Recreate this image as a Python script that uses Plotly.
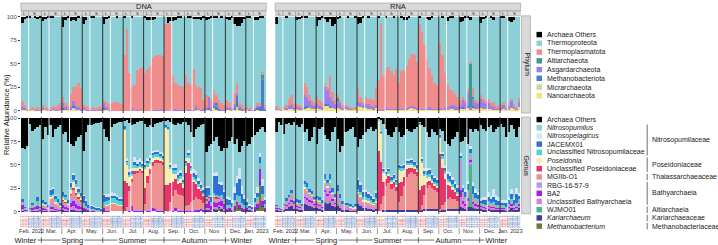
import plotly.graph_objects as go

W, H = 718, 245

# ---------------- categories ----------------
months = ["Feb. 2022", "Mar.", "Apr.", "May.", "Jun.", "Jul.", "Aug.", "Sep.", "Oct.", "Nov.", "Dec.", "Jan. 2023"]
month_codes = ["2202", "2203", "2204", "2205", "2206", "2207", "2208", "2209", "2210", "2211", "2212", "2301"]
size_fractions = ["L", "L", "L", "S", "S", "S", "S", "S"]
seasons = ["Winter", "Spring", "Summer", "Autumn", "Winter"]
season_month_counts = [1, 3, 3, 3, 2]

phylum_names = ["Archaea Others", "Thermoproteota", "Thermoplasmatota", "Altiarchaeota",
                "Asgardarchaeota", "Methanobacteriota", "Micrarchaeota", "Nanoarchaeota"]
phylum_colors = ["#000000", "#8CCFD6", "#F08C8C", "#3B9C8C", "#9A7EF0", "#4A7DC2", "#C4D9A0", "#F7E27A"]

genus_names = ["Archaea Others", "<i>Nitrosopumilus</i>", "<i>Nitrosopelagicus</i>", "JACEMX01",
               "Unclassified Nitrosopumilaceae", "<i>Poseidonia</i>", "Unclassified Poseidoniaceae",
               "MGIIb-O1", "RBG-16-57-9", "BA2", "Unclassified Bathyarchaeia", "WJMO01",
               "<i>Kariarchaeum</i>", "<i>Methanobacterium</i>"]
genus_colors = ["#000000", "#8CCFD6", "#D5E6F3", "#2E6FD8", "#4ED6D6", "#F8ECB0", "#E8336B",
                "#EE9191", "#B59BE3", "#A21EF0", "#DA80DA", "#4CB38A", "#3E3B9B", "#6B7B3A"]
family_labels = ["Nitrosopumilaceae", "Poseidoniaceae", "Thalassarchaeaceae", "Bathyarchaeia",
                 "Altiarchaeia", "Kariarchaeaceae", "Methanobacteriaceae"]
family_first_genus = [1, 5, 7, 8, 11, 12, 13]
family_last_genus = [4, 6, 7, 10, 11, 12, 13]

# ---------------- DNA, phylum ----------------
dna_phy_others = [
    6,2,1,1,0,1,2,1, 4,2,1,1,1,0,0,0,
    11,3,1,4,3,4,1,0, 7,3,0,1,1,0,0,0,
    7,2,1,0,0,1,0,0, 1,0,0,1,0,0,0,0,
    1,3,3,3,2,0,0,0, 0,6,4,4,3,1,1,0,
    0,1,1,2,2,2,3,1, 3,2,1,1,1,0,1,0,
    2,3,1,8,10,10,6,2, 1,1,0,3,3,1,1,0]
dna_phy_thermoplasmatota = [
    7,3,2,2,2,2,3,1, 3,2,2,2,2,3,5,6,
    7,4,2,14,14,21,26,22, 3,4,3,2,3,3,4,3,
    4,5,6,8,9,9,8,7, 60,87,40,23,28,43,46,47,
    40,45,48,56,57,58,59,57, 93,94,92,36,28,27,26,24,
    38,29,27,44,23,24,23,10, 13,2,10,12,9,9,7,5,
    8,5,3,12,12,4,4,3, 2,2,1,1,2,2,2,4]
dna_phy_altiarchaeota = [
    0,0,0,0,0,0,0,0, 0,0,0,0,0,0,0,0,
    0,0,0,0,0,0,0,0, 0,0,0,0,0,0,0,0,
    0,0,0,0,0,0,0,0, 0,0,0,0,0,0,0,0,
    0,0,0,0,0,0,0,0, 0,0,0,0,0,0,0,0,
    0,0,0,0,0,0,0,0, 0,1,0,0,1,0,0,0,
    0,0,0,0,0,0,0,0, 0,0,0,0,0,0,5,0]
dna_phy_asgardarchaeota = [
    3,1,0,0,1,0,1,0, 2,1,1,1,2,1,1,1,
    5,3,2,3,6,4,3,2, 2,1,1,1,1,0,1,1,
    5,3,1,0,0,0,0,0, 0,0,0,3,0,1,0,0,
    0,0,0,0,1,1,1,1, 0,0,0,1,2,1,1,1,
    0,1,1,1,3,1,1,2, 3,10,2,5,3,2,1,1,
    3,2,1,4,2,1,1,0, 1,1,0,1,2,1,1,1]
dna_phy_methanobacteriota = [
    0,1,0,0,0,0,0,0, 0,0,0,0,0,0,0,0,
    1,0,0,0,1,0,0,0, 0,0,0,0,0,0,0,0,
    1,0,0,0,0,0,0,0, 0,0,0,0,0,0,0,0,
    0,0,0,0,0,0,0,0, 0,0,0,0,0,0,0,0,
    0,0,0,0,1,0,0,0, 0,2,0,1,3,1,0,0,
    0,0,0,2,12,2,1,0, 0,0,0,2,3,5,33,1]
dna_phy_micrarchaeota = [
    0,0,0,0,0,0,0,0, 0,0,0,0,0,0,0,0,
    0,0,0,0,1,0,0,0, 0,0,0,0,0,0,0,0,
    0,0,0,0,0,0,0,0, 0,0,0,0,0,0,0,0,
    0,0,0,0,0,0,0,0, 0,0,0,0,0,0,0,0,
    0,0,0,0,0,0,0,0, 0,0,0,1,0,0,0,0,
    0,0,0,0,1,0,0,0, 0,0,0,0,0,0,0,0]
dna_phy_nanoarchaeota = [
    1,1,0,0,1,0,0,0, 1,1,0,0,1,0,0,1,
    2,1,1,1,3,1,1,0, 1,0,0,0,0,0,0,0,
    2,1,0,0,0,0,0,0, 0,0,0,0,0,0,0,0,
    0,0,0,0,0,0,0,0, 0,0,0,0,0,0,0,0,
    0,0,0,0,1,1,0,0, 1,1,0,3,1,0,0,0,
    1,1,0,1,3,1,0,0, 1,0,0,0,1,0,0,0]

# ---------------- RNA, phylum ----------------
rna_phy_others = [
    7,0,0,0,1,0,0,0, 3,2,1,1,1,0,0,0,
    10,3,1,2,5,2,10,7, 2,1,0,0,1,0,0,1,
    8,6,1,0,1,0,0,0, 1,0,0,1,0,0,1,0,
    0,1,3,3,1,0,0,0, 1,0,0,2,3,1,0,0,
    0,1,0,4,1,1,0,0, 5,4,1,1,3,0,0,0,
    6,2,1,0,1,3,0,0, 1,1,0,4,5,3,0,0]
rna_phy_thermoplasmatota = [
    2,1,1,2,3,8,11,4, 2,2,1,13,10,6,6,3,
    9,7,4,5,4,22,9,5, 3,4,2,1,1,1,1,2,
    14,7,4,8,6,9,8,19, 32,94,36,42,45,40,36,43,
    28,40,42,45,51,56,56,49, 92,82,68,52,42,36,28,26,
    69,58,37,24,18,15,13,11, 6,3,4,3,2,9,4,3,
    4,3,4,5,2,5,2,2, 2,2,1,3,2,2,1,4]
rna_phy_altiarchaeota = [
    0,0,0,0,0,0,0,0, 0,0,0,0,0,0,0,0,
    0,0,0,0,0,0,0,0, 3,0,0,0,0,0,0,0,
    0,0,0,0,0,0,0,0, 0,0,0,0,0,0,0,0,
    0,0,0,0,0,0,0,0, 0,0,0,0,0,0,0,0,
    0,0,0,0,0,0,0,0, 0,0,0,0,46,2,0,0,
    0,0,0,0,0,0,0,0, 0,0,0,0,0,0,0,0]
rna_phy_asgardarchaeota = [
    2,1,0,1,2,3,4,2, 3,2,2,13,10,8,4,3,
    4,3,2,18,15,10,8,5, 8,6,3,3,2,2,1,1,
    5,4,3,4,5,3,2,3, 1,0,1,3,1,1,1,1,
    1,1,1,1,1,1,1,1, 0,1,1,1,2,1,1,1,
    1,1,2,2,3,4,4,3, 4,8,6,15,3,8,6,5,
    10,8,5,6,4,3,2,2, 3,5,2,4,8,3,2,6]
rna_phy_methanobacteriota = [
    0,0,0,0,0,0,0,0, 0,0,0,1,1,0,0,0,
    0,0,0,1,1,1,0,0, 0,0,0,0,0,0,0,0,
    0,0,0,0,0,0,0,0, 0,0,0,0,0,0,0,0,
    0,0,0,0,0,0,0,0, 0,0,0,0,0,0,0,0,
    0,0,0,0,0,0,0,0, 0,1,0,1,0,1,0,0,
    0,0,0,0,0,0,0,0, 0,0,0,0,0,0,0,0]
rna_phy_micrarchaeota = [
    0,0,0,0,0,0,0,0, 0,0,0,0,0,0,0,0,
    0,0,0,1,0,0,0,0, 0,0,0,0,0,0,0,0,
    0,0,0,0,0,0,0,0, 0,0,0,0,0,0,0,0,
    0,0,0,0,0,0,0,0, 0,0,0,0,0,0,0,0,
    0,0,0,0,0,0,0,0, 0,0,0,0,0,1,0,0,
    0,0,0,0,0,0,0,0, 0,0,0,0,0,0,0,0]
rna_phy_nanoarchaeota = [
    1,1,0,1,1,2,2,1, 2,2,1,3,4,3,2,2,
    3,2,2,5,6,4,3,2, 3,2,1,2,2,1,1,1,
    5,4,3,3,2,2,2,3, 0,0,0,1,1,1,1,1,
    1,1,1,2,3,4,3,2, 1,1,1,2,2,1,1,1,
    2,1,1,2,2,2,1,1, 2,3,2,4,1,3,2,2,
    3,2,2,2,2,1,1,1, 1,2,1,1,3,2,1,4]

# ---------------- DNA, genus ----------------
dna_gen_others = [
    32,33,30,6,14,12,10,8, 22,10,18,8,20,12,10,8,
    17,15,26,28,30,25,20,18, 35,15,8,8,6,5,5,4,
    12,20,25,10,6,5,4,4, 3,2,5,8,6,4,3,3,
    6,10,8,10,6,5,4,3, 3,2,4,6,8,5,7,4,
    4,8,15,20,12,10,8,6, 36,30,28,25,20,30,35,32,
    32,25,20,28,22,36,30,25, 30,28,20,18,15,12,10,15]
dna_gen_nitrosopelagicus = [
    0,0,0,0,0,0,0,0, 0,0,0,1,1,1,0,0,
    0,0,0,1,1,1,1,0, 1,1,0,1,1,1,1,1,
    1,3,3,4,3,3,2,2, 0,2,3,4,5,4,4,3,
    2,2,2,2,2,2,2,2, 0,0,2,3,4,3,3,3,
    2,3,3,4,4,3,3,3, 1,1,1,3,4,3,3,2,
    4,3,3,6,8,12,8,5, 3,2,2,5,6,5,8,4]
dna_gen_jacemx01 = [
    2,1,1,1,2,2,4,1, 3,2,2,5,6,4,3,2,
    4,3,3,5,6,5,4,3, 8,6,3,3,2,2,2,2,
    8,5,4,3,3,3,3,3, 2,2,2,2,3,2,2,2,
    2,3,3,3,3,3,2,2, 1,1,2,3,3,3,3,2,
    3,3,3,4,4,4,3,3, 10,8,6,18,20,12,10,8,
    6,5,4,8,12,18,10,6, 3,2,2,4,5,6,8,4]
dna_gen_uncl_nitrosopumilaceae = [
    1,1,0,1,1,1,2,1, 1,1,1,2,2,2,1,1,
    2,2,1,3,3,3,2,2, 3,2,1,1,1,1,1,1,
    3,4,4,5,5,4,4,4, 1,3,3,3,4,3,3,3,
    3,4,4,3,3,3,3,3, 1,1,3,4,4,3,3,3,
    3,3,3,3,3,3,2,2, 3,2,2,3,3,2,2,2,
    3,2,2,4,5,8,4,3, 2,1,1,3,3,3,4,2]
dna_gen_poseidonia = [
    0,0,0,0,0,0,0,0, 1,1,1,3,3,2,2,1,
    2,2,1,4,6,6,4,3, 0,0,0,0,0,0,0,0,
    0,1,1,1,1,1,1,1, 55,20,10,3,3,2,2,2,
    20,10,6,4,3,3,2,2, 62,60,15,8,5,4,5,4,
    8,5,3,2,2,1,1,1, 0,0,0,1,0,0,0,0,
    0,0,0,0,0,0,0,0, 0,0,0,0,0,0,0,0]
dna_gen_uncl_poseidoniaceae = [
    0,0,0,0,0,0,0,0, 0,0,0,0,0,0,0,0,
    1,1,0,1,2,2,1,1, 0,0,0,0,0,0,0,0,
    0,0,0,0,0,0,0,0, 33,25,5,3,3,2,2,2,
    17,8,5,4,3,3,3,3, 28,27,20,15,12,10,12,8,
    35,45,30,20,15,12,10,8, 1,1,0,1,1,1,0,0,
    0,0,0,0,0,0,0,0, 0,0,0,0,0,0,0,0]
dna_gen_mgiib_o1 = [
    3,1,1,1,2,1,3,1, 2,2,1,5,6,4,3,2,
    3,3,2,6,8,7,5,4, 2,1,1,1,1,1,1,0,
    3,5,6,8,8,7,6,6, 0,5,20,25,38,40,42,40,
    8,28,38,44,48,50,50,48, 0,1,10,15,18,17,16,15,
    5,6,8,10,12,10,8,6, 2,2,1,2,3,2,2,2,
    1,1,1,2,2,2,1,1, 1,1,1,1,2,2,2,1]
dna_gen_rbg_16_57_9 = [
    0,0,0,0,0,0,0,0, 1,1,1,3,3,2,2,1,
    2,2,1,3,4,3,3,2, 0,0,0,0,0,0,0,0,
    0,0,0,0,0,0,0,0, 0,0,1,1,1,1,1,1,
    0,1,1,1,1,1,1,1, 0,0,0,1,1,1,1,1,
    0,0,1,1,1,1,1,1, 1,1,1,2,1,1,2,1,
    0,0,0,0,0,0,0,0, 0,0,0,1,1,1,1,1]
dna_gen_ba2 = [
    4,1,0,0,2,1,3,1, 2,1,1,2,2,1,1,1,
    3,2,2,4,5,4,3,2, 2,2,1,1,1,0,0,0,
    3,1,1,0,0,0,0,0, 0,0,1,6,1,1,1,1,
    0,1,1,4,3,1,1,1, 0,0,0,1,4,1,1,1,
    1,1,1,1,2,2,3,2, 5,8,4,6,5,4,6,5,
    2,2,1,3,2,3,2,2, 2,1,1,3,5,16,6,2]
dna_gen_uncl_bathyarchaeia = [
    2,1,0,1,1,0,2,1, 1,1,0,2,2,1,1,1,
    2,2,1,3,4,3,2,2, 0,0,0,0,0,0,0,0,
    0,0,0,0,0,0,0,0, 0,0,0,0,0,0,0,0,
    0,0,0,0,0,0,0,0, 0,0,0,0,0,0,0,0,
    0,0,0,0,0,0,0,0, 2,2,1,2,2,2,3,2,
    0,0,0,0,0,0,0,0, 0,0,0,0,0,0,0,0]
dna_gen_wjmo01 = [
    0,0,0,0,0,0,0,0, 0,0,0,0,0,0,0,0,
    0,0,0,0,0,0,0,0, 0,0,0,0,0,0,0,0,
    0,0,0,0,0,0,0,0, 0,0,0,0,0,0,0,0,
    0,0,0,0,0,0,0,0, 0,0,0,0,0,0,0,0,
    0,0,0,0,0,0,0,0, 0,0,0,0,1,0,0,0,
    0,0,0,0,0,0,0,0, 0,0,0,0,0,0,0,0]
dna_gen_kariarchaeum = [
    1,0,0,0,1,0,1,0, 1,1,0,1,1,1,0,0,
    2,1,1,2,2,1,1,1, 2,1,1,0,0,0,0,0,
    1,0,0,0,0,0,0,0, 0,0,0,0,0,0,0,0,
    0,0,0,0,0,0,0,0, 0,0,0,0,0,0,0,0,
    0,0,0,0,0,0,0,0, 2,2,1,2,2,1,2,1,
    1,1,1,1,1,1,1,1, 1,1,0,1,1,1,1,1]
dna_gen_methanobacterium = [
    0,0,0,0,0,0,0,0, 0,0,0,0,0,0,0,0,
    0,0,0,0,0,0,0,0, 0,0,0,0,0,0,0,0,
    0,0,0,0,0,0,0,0, 0,0,0,0,0,0,0,0,
    0,0,0,0,0,0,0,0, 0,0,0,0,0,0,0,0,
    0,0,0,0,0,0,0,0, 0,0,0,1,0,4,1,0,
    0,1,0,2,8,3,1,0, 1,0,0,1,3,29,5,1]

# ---------------- RNA, genus ----------------
rna_gen_others = [
    15,4,8,17,6,5,8,4, 8,10,6,15,12,25,20,10,
    28,12,10,18,22,25,15,10, 22,36,30,15,14,12,10,20,
    31,22,18,15,12,10,14,12, 1,2,6,12,18,20,15,10,
    15,20,18,12,14,15,12,10, 4,8,10,15,20,12,15,18,
    12,14,25,28,30,22,20,15, 26,25,20,28,12,15,12,14,
    8,12,14,10,8,15,12,10, 6,10,20,15,8,12,20,10]
rna_gen_nitrosopelagicus = [
    0,0,0,0,0,0,0,0, 0,0,0,0,0,0,0,0,
    0,0,0,0,0,0,0,0, 0,0,0,0,0,0,0,0,
    2,2,2,2,2,2,1,2, 0,0,1,1,1,1,1,1,
    1,1,1,1,1,1,1,1, 0,1,2,2,2,2,2,2,
    1,2,3,3,4,3,3,3, 2,3,3,4,3,5,4,3,
    2,3,4,5,4,8,6,4, 2,2,3,4,5,4,6,3]
rna_gen_jacemx01 = [
    1,1,1,1,2,2,3,2, 2,2,2,4,4,3,3,2,
    3,2,2,5,4,5,4,3, 6,5,3,2,2,2,1,2,
    10,8,6,6,5,5,4,6, 0,1,2,3,3,3,3,3,
    3,3,3,3,3,4,3,3, 1,3,4,5,5,4,4,4,
    2,3,4,5,5,5,4,4, 3,4,5,6,5,8,6,5,
    3,4,5,5,4,6,5,4, 3,3,4,4,6,5,10,4]
rna_gen_uncl_nitrosopumilaceae = [
    0,0,0,1,1,1,1,1, 1,1,1,2,2,1,1,1,
    1,1,1,2,2,2,1,1, 2,2,1,1,1,1,1,1,
    3,3,2,2,2,2,2,2, 0,1,2,2,2,2,2,2,
    2,2,2,2,2,2,2,2, 1,2,2,3,3,2,2,2,
    1,2,2,3,3,3,2,2, 2,2,2,2,2,3,2,2,
    2,2,2,3,2,3,2,2, 2,2,2,2,3,2,3,2]
rna_gen_poseidonia = [
    0,0,0,0,0,0,0,0, 1,1,0,2,2,1,1,1,
    1,1,1,2,2,2,1,1, 0,0,0,0,0,1,1,2,
    2,3,2,2,2,1,1,2, 32,30,10,3,3,2,2,2,
    15,12,8,5,4,3,3,3, 70,25,10,5,4,3,3,3,
    18,10,6,4,3,3,2,2, 0,0,0,0,0,0,0,0,
    0,0,0,0,0,0,0,0, 0,0,0,0,0,0,0,0]
rna_gen_uncl_poseidoniaceae = [
    0,0,0,0,0,0,0,0, 0,0,0,0,0,0,0,0,
    0,0,0,0,0,0,0,0, 0,0,0,0,0,0,0,0,
    0,0,0,0,0,0,0,0, 65,45,15,8,8,6,6,5,
    20,15,10,8,6,5,5,4, 22,20,10,6,5,5,4,4,
    58,40,25,15,12,10,8,6, 0,0,0,0,0,0,0,0,
    0,0,0,0,0,0,0,0, 0,0,0,0,0,0,0,0]
rna_gen_mgiib_o1 = [
    1,1,1,1,2,3,4,2, 2,2,1,5,4,4,3,2,
    2,2,2,4,3,5,3,2, 3,2,2,1,1,1,1,1,
    5,5,4,4,4,3,3,4, 0,8,15,25,28,22,24,20,
    8,15,25,35,38,40,38,36, 0,5,15,22,25,22,20,18,
    2,5,8,10,12,10,10,8, 2,3,3,3,2,3,2,2,
    1,1,1,2,2,2,1,1, 1,1,1,1,2,1,1,2]
rna_gen_rbg_16_57_9 = [
    1,0,0,1,2,2,3,1, 1,1,1,4,4,3,3,2,
    2,2,1,4,4,4,3,2, 3,2,1,1,1,1,0,0,
    2,1,1,1,1,1,1,1, 0,0,0,0,0,0,0,0,
    0,0,0,0,0,0,0,0, 0,0,0,0,0,0,0,0,
    0,0,0,0,0,0,0,0, 30,5,3,4,3,2,2,2,
    0,0,0,0,0,0,0,0, 0,0,0,0,0,0,0,0]
rna_gen_ba2 = [
    1,0,0,0,1,1,1,0, 1,1,0,1,1,1,1,1,
    1,1,1,2,2,2,1,1, 0,0,0,0,0,0,0,0,
    0,0,0,0,0,0,0,0, 0,0,0,0,0,0,0,0,
    0,0,0,0,0,0,0,0, 0,0,0,0,0,0,0,0,
    0,0,0,0,0,0,0,0, 8,3,2,3,2,2,2,2,
    1,1,1,1,1,1,1,1, 1,1,0,1,2,1,1,3]
rna_gen_uncl_bathyarchaeia = [
    1,1,0,2,3,4,5,2, 2,2,1,7,6,5,5,3,
    3,3,2,10,8,9,6,4, 6,4,2,2,2,1,1,1,
    4,3,2,2,2,2,1,2, 0,0,0,0,0,0,0,0,
    0,0,0,0,0,0,0,0, 0,0,0,0,0,0,0,0,
    0,0,0,0,0,0,0,0, 10,4,3,5,3,3,2,2,
    2,2,1,2,2,2,1,1, 1,1,1,2,2,1,2,2]
rna_gen_wjmo01 = [
    0,0,0,0,0,0,0,0, 0,0,0,0,0,0,0,0,
    0,0,0,1,1,1,0,0, 2,0,0,0,0,0,0,0,
    0,0,0,0,0,0,0,0, 0,0,0,0,0,0,0,0,
    0,0,0,0,0,0,0,0, 0,0,0,0,0,0,0,0,
    0,0,0,0,0,0,0,0, 0,0,0,1,45,2,1,0,
    0,0,0,0,0,0,0,0, 0,0,0,0,0,0,0,0]
rna_gen_kariarchaeum = [
    2,1,1,2,3,5,6,3, 3,2,2,8,7,6,5,4,
    4,3,2,10,8,10,6,5, 6,4,2,2,2,1,1,1,
    8,6,4,4,3,3,2,3, 0,0,2,2,2,2,2,2,
    2,2,2,2,2,2,2,2, 1,2,3,3,3,3,3,3,
    1,2,2,3,3,3,3,3, 5,4,3,5,5,4,3,3,
    3,2,2,3,2,2,2,2, 2,2,1,2,3,2,2,3]
rna_gen_methanobacterium = [
    0,0,0,0,0,0,0,0, 0,0,0,0,0,0,0,0,
    0,0,0,0,0,0,0,0, 0,0,0,0,0,0,0,0,
    0,0,0,0,0,0,0,0, 0,0,0,0,0,0,0,0,
    0,0,0,0,0,0,0,0, 0,0,0,0,0,0,0,0,
    0,0,0,0,0,0,0,0, 0,0,0,0,0,0,0,0,
    0,0,0,0,0,0,0,0, 0,0,0,0,1,0,0,1]


def closing_share(*parts):
    """Relative abundances close to 100 %: the dominant taxon fills the rest of each bar."""
    return [max(0, 100 - sum(v)) for v in zip(*parts)]


dna_phy_minor = [dna_phy_others, dna_phy_thermoplasmatota, dna_phy_altiarchaeota, dna_phy_asgardarchaeota,
                 dna_phy_methanobacteriota, dna_phy_micrarchaeota, dna_phy_nanoarchaeota]
rna_phy_minor = [rna_phy_others, rna_phy_thermoplasmatota, rna_phy_altiarchaeota, rna_phy_asgardarchaeota,
                 rna_phy_methanobacteriota, rna_phy_micrarchaeota, rna_phy_nanoarchaeota]
dna_gen_minor = [dna_gen_others, dna_gen_nitrosopelagicus, dna_gen_jacemx01, dna_gen_uncl_nitrosopumilaceae,
                 dna_gen_poseidonia, dna_gen_uncl_poseidoniaceae, dna_gen_mgiib_o1, dna_gen_rbg_16_57_9,
                 dna_gen_ba2, dna_gen_uncl_bathyarchaeia, dna_gen_wjmo01, dna_gen_kariarchaeum,
                 dna_gen_methanobacterium]
rna_gen_minor = [rna_gen_others, rna_gen_nitrosopelagicus, rna_gen_jacemx01, rna_gen_uncl_nitrosopumilaceae,
                 rna_gen_poseidonia, rna_gen_uncl_poseidoniaceae, rna_gen_mgiib_o1, rna_gen_rbg_16_57_9,
                 rna_gen_ba2, rna_gen_uncl_bathyarchaeia, rna_gen_wjmo01, rna_gen_kariarchaeum,
                 rna_gen_methanobacterium]
for group in (dna_phy_minor, rna_phy_minor, dna_gen_minor, rna_gen_minor):
    for s in group:
        assert len(s) == 96, len(s)

dna_phy_thermoproteota = closing_share(*dna_phy_minor)
rna_phy_thermoproteota = closing_share(*rna_phy_minor)
dna_gen_nitrosopumilus = closing_share(*dna_gen_minor)
rna_gen_nitrosopumilus = closing_share(*rna_gen_minor)

# series in legend order (top of stack first)
dna_phylum = [dna_phy_others, dna_phy_thermoproteota] + dna_phy_minor[1:]
rna_phylum = [rna_phy_others, rna_phy_thermoproteota] + rna_phy_minor[1:]
dna_genus = [dna_gen_others, dna_gen_nitrosopumilus] + dna_gen_minor[1:]
rna_genus = [rna_gen_others, rna_gen_nitrosopumilus] + rna_gen_minor[1:]

# sample labels
sample_names, sample_fracs = [], []
for code in month_codes:
    counts = {}
    for f in size_fractions:
        counts[f] = counts.get(f, 0) + 1
        sample_names.append(f"{code}{f}{counts[f]}")
        sample_fracs.append(f)
xs = list(range(len(sample_names)))
n_per_month = len(size_fractions)

# ---------------- figure ----------------
FONT = "Liberation Sans, Arial, sans-serif"
fig = go.Figure()


def add_panel(series, colors, xa, ya):
    for vals, col in reversed(list(zip(series, colors))):
        fig.add_trace(go.Bar(x=xs, y=vals, marker=dict(color=col, line=dict(width=0)),
                             xaxis=xa, yaxis=ya, showlegend=False, hoverinfo="skip"))


add_panel(dna_phylum, phylum_colors, "x", "y")
add_panel(rna_phylum, phylum_colors, "x2", "y2")
add_panel(dna_genus, genus_colors, "x3", "y3")
add_panel(rna_genus, genus_colors, "x4", "y4")

px_dna = (20, 266)
px_rna = (275, 521)
xdom_dna = [px_dna[0] / W, px_dna[1] / W]
xdom_rna = [px_rna[0] / W, px_rna[1] / W]
ydom_phy = [1 - 112.5 / H, 1 - 14 / H]
ydom_gen = [1 - 214.5 / H, 1 - 116.5 / H]

lab_colors = {"L": "#E0555A", "S": "#4A6FB5"}
ticktext = [f'<span style="color:{lab_colors[f]}">{n}</span>' for n, f in zip(sample_names, sample_fracs)]

xbase = dict(range=[-0.5, len(xs) - 0.5], showgrid=False, zeroline=False, showline=False, fixedrange=True)
ybase = dict(range=[-2.5, 101], showgrid=False, zeroline=False, showline=False, fixedrange=True)
ylab = dict(tickvals=[0, 25, 50, 75, 100], ticks="outside", ticklen=2, tickwidth=0.7, tickcolor="#333333",
            tickfont=dict(size=6, color="#4D4D4D", family=FONT))
xlab = dict(tickvals=xs, ticktext=ticktext, tickangle=-90, ticks="", tickfont=dict(size=3.6, family=FONT))

fig.update_layout(
    width=W, height=H, margin=dict(l=0, r=0, t=0, b=0), autosize=False,
    paper_bgcolor="white", plot_bgcolor="white", barmode="stack", bargap=0,
    font=dict(family=FONT, color="#1A1A1A"), hovermode=False,
    xaxis=dict(domain=xdom_dna, anchor="y", showticklabels=False, **xbase),
    xaxis2=dict(domain=xdom_rna, anchor="y2", showticklabels=False, **xbase),
    xaxis3=dict(domain=xdom_dna, anchor="y3", **xlab, **xbase),
    xaxis4=dict(domain=xdom_rna, anchor="y4", **xlab, **xbase),
    yaxis=dict(domain=ydom_phy, anchor="x", **ylab, **ybase),
    yaxis2=dict(domain=ydom_phy, anchor="x2", showticklabels=False, **ybase),
    yaxis3=dict(domain=ydom_gen, anchor="x3", **ylab, **ybase),
    yaxis4=dict(domain=ydom_gen, anchor="x4", showticklabels=False, **ybase),
)

shapes, annotations = [], []


def note(**kw):
    d = dict(showarrow=False, xanchor="center", yanchor="middle")
    d.update(kw)
    annotations.append(d)


# vertical separators inside panels
month_starts = [m * n_per_month for m in range(len(months))]
ls_breaks = [i for i in range(1, len(xs)) if sample_fracs[i] != sample_fracs[i - 1] and i % n_per_month != 0]
for xa, ya in (("x", "y"), ("x2", "y2"), ("x3", "y3"), ("x4", "y4")):
    for b in ls_breaks:
        shapes.append(dict(type="line", xref=xa, yref=f"{ya} domain", x0=b - 0.5, x1=b - 0.5, y0=0, y1=1,
                           line=dict(color="rgba(255,255,255,0.9)", width=1)))
    for b in month_starts[1:]:
        shapes.append(dict(type="line", xref=xa, yref=f"{ya} domain", x0=b - 0.5, x1=b - 0.5, y0=0, y1=1,
                           line=dict(color="#333333", width=1)))

# top strips: DNA / RNA and L / S
for xa, label in (("x", "DNA"), ("x2", "RNA")):
    shapes.append(dict(type="rect", xref=f"{xa} domain", x0=0, x1=1, yref="paper", y0=1 - 9 / H, y1=1 - 1 / H,
                       fillcolor="#D9D9D9", line=dict(color="#9A9A9A", width=0.6)))
    note(text=label, xref=f"{xa} domain", x=0.5, yref="paper", y=1 - 5 / H,
         font=dict(size=7.5, color="#1A1A1A"))
    i = 0
    while i < len(xs):
        j = i
        while j + 1 < len(xs) and sample_fracs[j + 1] == sample_fracs[i] and (j + 1) % n_per_month != 0:
            j += 1
        shapes.append(dict(type="rect", xref=xa, x0=i - 0.5, x1=j + 0.5, yref="paper", y0=1 - 14 / H,
                           y1=1 - 9.2 / H, fillcolor="#D9D9D9", line=dict(color="#8C8C8C", width=0.5)))
        note(text=sample_fracs[i], xref=xa, x=(i + j) / 2, yref="paper", y=1 - 11.6 / H,
             font=dict(size=4.2, color="#1A1A1A"))
        i = j + 1

# right strips
for ya, label in (("y", "Phylum"), ("y3", "Genus")):
    shapes.append(dict(type="rect", xref="paper", x0=522 / W, x1=531 / W, yref=f"{ya} domain", y0=0, y1=1,
                       fillcolor="#D9D9D9", line=dict(color="#9A9A9A", width=0.6)))
    note(text=label, xref="paper", x=526.5 / W, yref=f"{ya} domain", y=0.5, textangle=90,
         font=dict(size=7, color="#1A1A1A"))

# y title
note(text="Relative Abundance (%)", xref="paper", x=5.5 / W, yref="paper", y=1 - 114 / H,
     textangle=-90, font=dict(size=7.5, color="#1A1A1A"))

# month labels, month ticks, seasons
y_month = 1 - 232 / H
y_season = 1 - 241 / H
for xa, (p0, p1) in (("x3", px_dna), ("x4", px_rna)):
    unit = (p1 - p0) / len(xs)
    for m, name in enumerate(months):
        note(text=name, xref=xa, x=m * n_per_month + (n_per_month - 1) / 2, yref="paper",
             y=y_month, font=dict(size=5.6, color="#333333"))
    for b in month_starts[1:]:
        shapes.append(dict(type="line", xref=xa, x0=b - 0.5, x1=b - 0.5, yref="paper",
                           y0=1 - 235 / H, y1=1 - 229 / H, line=dict(color="#555555", width=0.6)))
    first_c = -0.5 + 4.5 / unit
    last_c = -0.5 + 221.5 / unit
    shapes.append(dict(type="line", xref=xa, x0=first_c, x1=last_c, yref="paper", y0=y_season, y1=y_season,
                       line=dict(color="#333333", width=0.7)))
    start = 0
    centers = []
    for k, cnt in enumerate(season_month_counts):
        s0 = start * n_per_month
        s1 = (start + cnt) * n_per_month
        centers.append((s0 + s1 - 1) / 2)
        if k > 0:
            shapes.append(dict(type="line", xref=xa, x0=s0 - 0.5, x1=s0 - 0.5, yref="paper",
                               y0=1 - 244 / H, y1=1 - 238 / H, line=dict(color="#333333", width=0.7)))
        start += cnt
    centers[0] = first_c
    centers[-1] = last_c
    for k, name in enumerate(seasons):
        note(text=name, xref=xa, x=centers[k], yref="paper", y=y_season, bgcolor="white", borderpad=0.5,
             font=dict(size=7.5, color="#1A1A1A"))

# legends
sq = 5.5
leg_x = 537
for i, (name, col) in enumerate(zip(phylum_names, phylum_colors)):
    yc = 33 + i * 8.85
    shapes.append(dict(type="rect", xref="paper", yref="paper", x0=leg_x / W, x1=(leg_x + sq) / W,
                       y0=1 - (yc + sq / 2) / H, y1=1 - (yc - sq / 2) / H, fillcolor=col, line=dict(width=0)))
    note(text=name, xref="paper", yref="paper", x=546 / W, y=1 - yc / H, xanchor="left",
         font=dict(size=7, color="#1A1A1A"))
g_y = [119 + i * 8.3 for i in range(len(genus_names))]
for i, (name, col) in enumerate(zip(genus_names, genus_colors)):
    yc = g_y[i]
    shapes.append(dict(type="rect", xref="paper", yref="paper", x0=leg_x / W, x1=(leg_x + sq) / W,
                       y0=1 - (yc + sq / 2) / H, y1=1 - (yc - sq / 2) / H, fillcolor=col, line=dict(width=0)))
    note(text=name, xref="paper", yref="paper", x=546 / W, y=1 - yc / H, xanchor="left",
         font=dict(size=7, color="#1A1A1A"))
for fam, a, b in zip(family_labels, family_first_genus, family_last_genus):
    top = g_y[a] - 3.3
    bot = g_y[b] + 3.3
    shapes.append(dict(type="line", xref="paper", yref="paper", x0=648 / W, x1=648 / W, y0=1 - bot / H,
                       y1=1 - top / H, line=dict(color="#333333", width=0.7)))
    note(text=fam, xref="paper", yref="paper", x=650.5 / W, y=1 - (top + bot) / 2 / H, xanchor="left",
         font=dict(size=7, color="#1A1A1A"))

fig.update_layout(shapes=shapes, annotations=annotations)
fig.write_html("out.html")
